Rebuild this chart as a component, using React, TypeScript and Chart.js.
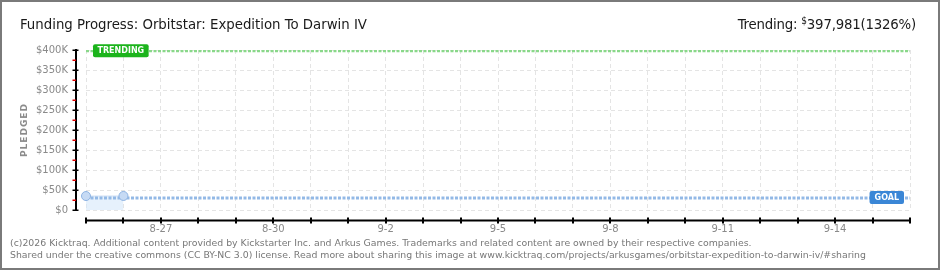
import React, { useEffect, useRef } from "react";
import { Chart, registerables } from "chart.js";

Chart.register(...registerables);

const days = [
  "8-25", "8-26", "8-27", "8-28", "8-29", "8-30", "8-31",
  "9-1", "9-2", "9-3", "9-4", "9-5", "9-6", "9-7", "9-8",
  "9-9", "9-10", "9-11", "9-12", "9-13", "9-14", "9-15", "9-16",
];
const pledged = [34900, 35100];
const GOAL = 30000;
const TRENDING = 397981;
const yTicks = [0, 50000, 100000, 150000, 200000, 250000, 300000, 350000, 400000];

const TITLE = "Funding Progress: Orbitstar: Expedition To Darwin IV";
const FOOTER1 =
  "(c)2026 Kicktraq. Additional content provided by Kickstarter Inc. and Arkus Games. Trademarks and related content are owned by their respective companies.";
const FOOTER2 =
  "Shared under the creative commons (CC BY-NC 3.0) license. Read more about sharing this image at www.kicktraq.com/projects/arkusgames/orbitstar-expedition-to-darwin-iv/#sharing";

function roundRect(ctx: CanvasRenderingContext2D, x: number, y: number, w: number, h: number, r: number) {
  ctx.beginPath();
  ctx.moveTo(x + r, y);
  ctx.lineTo(x + w - r, y);
  ctx.quadraticCurveTo(x + w, y, x + w, y + r);
  ctx.lineTo(x + w, y + h - r);
  ctx.quadraticCurveTo(x + w, y + h, x + w - r, y + h);
  ctx.lineTo(x + r, y + h);
  ctx.quadraticCurveTo(x, y + h, x, y + h - r);
  ctx.lineTo(x, y + r);
  ctx.quadraticCurveTo(x, y, x + r, y);
  ctx.closePath();
}

const decorPlugin = {
  id: "decor",
  afterDraw(chart: any) {
    const { ctx, chartArea, scales } = chart;
    const ys = scales.y;
    const xs = scales.x;
    ctx.save();
    // Y axis
    const ax = chartArea.left - 10;
    ctx.strokeStyle = "#000";
    ctx.lineWidth = 2;
    ctx.beginPath();
    ctx.moveTo(ax, ys.getPixelForValue(400000) - 1);
    ctx.lineTo(ax, ys.getPixelForValue(0) + 1);
    ctx.stroke();
    ctx.lineWidth = 1.5;
    yTicks.forEach((v) => {
      const y = Math.round(ys.getPixelForValue(v)) + 0.25;
      ctx.strokeStyle = "#000";
      ctx.beginPath();
      ctx.moveTo(ax - 3.5, y);
      ctx.lineTo(ax + 2.5, y);
      ctx.stroke();
      if (v < 400000) {
        const ym = Math.round(ys.getPixelForValue(v + 25000)) + 0.25;
        ctx.strokeStyle = "#e00000";
        ctx.beginPath();
        ctx.moveTo(ax - 3.5, ym);
        ctx.lineTo(ax, ym);
        ctx.stroke();
      }
    });
    // X axis
    const ay = chartArea.bottom + 10.5;
    ctx.strokeStyle = "#000";
    ctx.lineWidth = 2;
    ctx.beginPath();
    ctx.moveTo(xs.getPixelForValue(0) - 1, ay);
    ctx.lineTo(xs.getPixelForValue(days.length - 1) + 1, ay);
    ctx.stroke();
    days.forEach((_, i) => {
      const x = Math.round(xs.getPixelForValue(i));
      ctx.beginPath();
      ctx.moveTo(x, ay - 3);
      ctx.lineTo(x, ay + 3);
      ctx.stroke();
    });
    // Labels
    ctx.font = 'bold 8px "DejaVu Sans"';
    ctx.textBaseline = "middle";
    ctx.textAlign = "center";
    const tY = ys.getPixelForValue(TRENDING);
    const tw = ctx.measureText("TRENDING").width + 9;
    const tx = chartArea.left + 7;
    ctx.fillStyle = "#1cb41c";
    roundRect(ctx, tx, tY - 6.5, tw, 13, 2);
    ctx.fill();
    ctx.fillStyle = "#fff";
    ctx.fillText("TRENDING", tx + tw / 2, tY + 0.5);

    const gY = ys.getPixelForValue(GOAL);
    const gw = ctx.measureText("GOAL").width + 10;
    const gx = chartArea.right - 6 - gw;
    ctx.fillStyle = "#3a86d6";
    roundRect(ctx, gx, gY - 7, gw, 13, 2);
    ctx.fill();
    ctx.fillStyle = "#fff";
    ctx.fillText("GOAL", gx + gw / 2, gY);
    ctx.restore();
  },
};

export default function App() {
  const ref = useRef<HTMLCanvasElement>(null);
  useEffect(() => {
    if (!ref.current) return;
    const gridDash = [4, 3];
    const chart = new Chart(ref.current, {
      type: "line",
      data: {
        labels: days,
        datasets: [
          {
            label: "Pledged points",
            data: pledged,
            showLine: false,
            pointRadius: 4.5,
            pointBackgroundColor: "#c6daf4",
            pointBorderColor: "#8eb3e2",
            pointBorderWidth: 1,
            clip: false as any,
            order: 1,
          },
          {
            label: "Goal",
            data: days.map(() => GOAL),
            borderColor: "#93b9e6",
            borderWidth: 3,
            borderDash: [3, 1.5],
            pointRadius: 0,
            fill: false,
            order: 2,
          },
          {
            label: "Trending",
            data: days.map(() => TRENDING),
            borderColor: "#8ad88a",
            borderWidth: 3,
            borderDash: [3, 1.5],
            pointRadius: 0,
            fill: false,
            order: 2,
          },
          {
            label: "Pledged",
            data: pledged,
            borderColor: "rgba(180,205,238,0.6)",
            borderWidth: 1,
            backgroundColor: "rgba(214,231,250,0.6)",
            fill: "origin",
            pointRadius: 0,
            order: 3,
          },
        ],
      },
      options: {
        animation: false,
        responsive: false,
        maintainAspectRatio: false,
        layout: { padding: { top: 50, right: 30, bottom: 30, left: 0 } },
        plugins: { legend: { display: false }, tooltip: { enabled: false } },
        scales: {
          x: {
            type: "category",
            offset: false,
            afterFit: (s: any) => {
              s.height = 30;
            },
            grid: { color: "#e4e4e4", drawTicks: false, lineWidth: 1 },
            border: { display: false, dash: gridDash },
            ticks: {
              autoSkip: false,
              maxRotation: 0,
              minRotation: 0,
              padding: 13,
              color: "#8a8a8a",
              font: { family: "DejaVu Sans", size: 10 },
              callback: (_v: any, i: number) => ((i - 2) % 3 === 0 ? days[i] : ""),
            },
          },
          y: {
            min: 0,
            max: 400000,
            afterFit: (s: any) => {
              s.width = 86;
            },
            grid: { color: "#e4e4e4", drawTicks: false, lineWidth: 1 },
            border: { display: false, dash: gridDash },
            ticks: {
              stepSize: 50000,
              padding: 18,
              color: "#8a8a8a",
              font: { family: "DejaVu Sans", size: 10 },
              callback: (v: any) => (v === 0 ? "$0" : "$" + v / 1000 + "K"),
            },
          },
        },
      },
      plugins: [decorPlugin],
    });
    return () => chart.destroy();
  }, []);

  return (
    <div style={{ position: "absolute", left: 0, top: 0, width: 940, height: 270, background: "#fff", overflow: "hidden" }}>
      <canvas ref={ref} width={940} height={270} style={{ position: "absolute", left: 0, top: 0, width: 940, height: 270 }} />
      <div
        style={{
          position: "absolute", left: 20, top: 16, lineHeight: "16px", fontSize: 14.8,
          fontFamily: '"Liberation Sans Narrow", "DejaVu Sans Condensed", sans-serif', color: "#1a1a1a", whiteSpace: "nowrap",
        }}
      >
        {TITLE}
      </div>
      <div
        style={{
          position: "absolute", right: 24, top: 16, lineHeight: "16px", fontSize: 14.8,
          fontFamily: '"Liberation Sans Narrow", "DejaVu Sans Condensed", sans-serif', color: "#1a1a1a", whiteSpace: "nowrap",
          letterSpacing: -0.2,
        }}
      >
        Trending:{" "}
        <span style={{ fontSize: 10, position: "relative", top: -5 }}>$</span>
        397,981(1326%)
      </div>
      <div
        style={{
          position: "absolute", left: 23.5, top: 130, transform: "translate(-50%, -50%) rotate(-90deg)",
          fontFamily: '"DejaVu Sans", sans-serif', fontSize: 9, fontWeight: "bold", letterSpacing: 1, color: "#8a8a8a",
          whiteSpace: "nowrap", lineHeight: "10px",
        }}
      >
        PLEDGED
      </div>
      <div
        style={{
          position: "absolute", left: 10, top: 237, lineHeight: "12px", fontSize: 9.35,
          fontFamily: '"DejaVu Sans", sans-serif', color: "#777", whiteSpace: "nowrap",
        }}
      >
        <div>{FOOTER1}</div>
        <div>{FOOTER2}</div>
      </div>
      <div
        style={{
          position: "absolute", left: 0, top: 0, width: 940, height: 270, boxSizing: "border-box",
          border: "2px solid #7a7a7a", pointerEvents: "none",
        }}
      />
    </div>
  );
}
